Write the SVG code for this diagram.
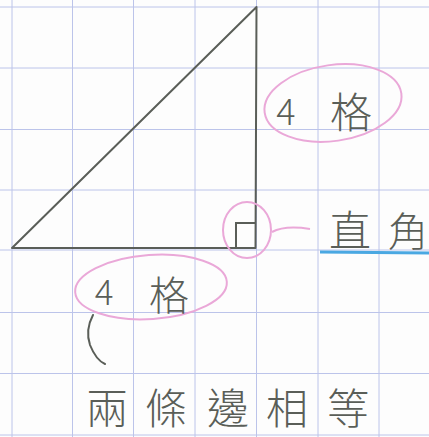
<svg xmlns="http://www.w3.org/2000/svg" width="429" height="437" viewBox="0 0 429 437">
<style>
.grid line{stroke:#bcc4ea;stroke-width:1}
.ink{fill:none;stroke:#5a5e58;stroke-width:2;stroke-linecap:round}
.pink{fill:none;stroke:#eaa8d8;stroke-width:2}
.t{font-family:"Noto Sans CJK TC","Noto Sans CJK SC",sans-serif;fill:#5a5e58;font-weight:300;text-anchor:middle}
</style>
<rect width="429" height="437" fill="#fdfdfd"/>
<g class="grid">
<line x1="12" y1="0" x2="12" y2="437"/>
<line x1="72.5" y1="0" x2="72.5" y2="437"/>
<line x1="133.5" y1="0" x2="133.5" y2="437"/>
<line x1="195" y1="0" x2="195" y2="437"/>
<line x1="256.5" y1="0" x2="256.5" y2="437"/>
<line x1="318" y1="0" x2="318" y2="437"/>
<line x1="379" y1="0" x2="379" y2="437"/>
<line x1="0" y1="7" x2="429" y2="7"/>
<line x1="0" y1="68" x2="429" y2="68"/>
<line x1="0" y1="129.5" x2="429" y2="129.5"/>
<line x1="0" y1="190" x2="429" y2="190"/>
<line x1="0" y1="250" x2="429" y2="250"/>
<line x1="0" y1="312.5" x2="429" y2="312.5"/>
<line x1="0" y1="373.5" x2="429" y2="373.5"/>
<line x1="0" y1="435" x2="429" y2="435"/>
</g>
<g id="triangle">
<path class="ink" d="M12 248 L256.5 7 L255.5 248 Z" stroke-linejoin="round"/>
<path class="ink" d="M236 248 L236 223 L255 223" stroke-width="1.8"/>
</g>
<g id="right-angle-mark">
<ellipse class="pink" cx="247" cy="230" rx="24" ry="28"/>
<path class="pink" d="M272 232 Q285 225 310 229"/>
</g>
<g id="side-right">
<ellipse class="pink" cx="333" cy="103" rx="69" ry="38" transform="rotate(-8 333 103)"/>
<text class="t" x="286" y="125" font-size="36">4</text>
<text class="t" x="351" y="128" font-size="42">格</text>
</g>
<g id="side-bottom">
<ellipse class="pink" cx="151" cy="287" rx="76" ry="32" transform="rotate(-4 151 287)"/>
<text class="t" x="104" y="305" font-size="35">4</text>
<text class="t" x="169" y="310" font-size="40">格</text>
</g>
<g id="label-right-angle">
<text class="t" x="350" y="246" font-size="42">直</text>
<text class="t" x="408" y="246" font-size="40">角</text>
<line x1="320" y1="252" x2="429" y2="253" stroke="#4aa8e2" stroke-width="3"/>
</g>
<g id="bracket">
<path class="ink" d="M93 315 Q85 330 90 345 Q96 360 105 364" stroke-width="1.8"/>
</g>
<g id="label-equal">
<text class="t" x="107" y="424" font-size="42">兩</text>
<text class="t" x="166" y="424" font-size="42">條</text>
<text class="t" x="228" y="424" font-size="42">邊</text>
<text class="t" x="287" y="424" font-size="42">相</text>
<text class="t" x="348" y="424" font-size="42">等</text>
</g>
</svg>
